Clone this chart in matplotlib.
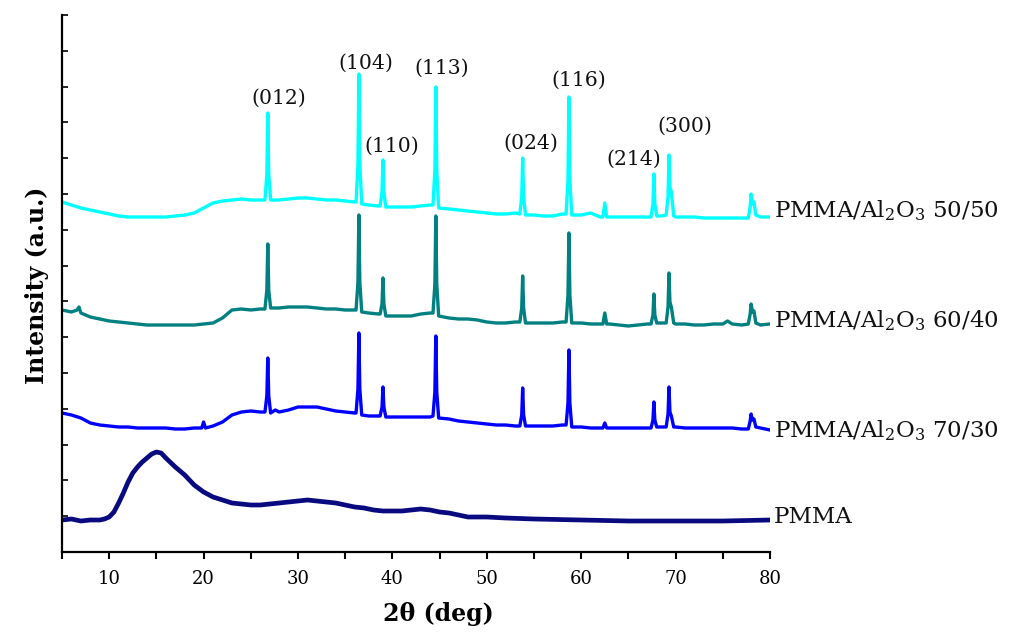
import matplotlib
matplotlib.use("Agg")
import matplotlib.pyplot as plt
import numpy as np

# ---- data (2theta [deg], intensity [a.u., stacked]) ----
pmma = [(5,32),(6,33),(7,31),(8,32),(9,32),(9.5,33),(10,35),(10.5,40),(11,49),(11.5,59),
        (12,70),(12.5,79),(13,85),(13.5,90),(14,94),(14.5,98),(15,100),(15.5,99),(16,94),
        (17,85),(18,77),(19,67),(20,60),(21,55),(22,52),(23,49),(24,48),(25,47),(26,47),
        (27,48),(28,49),(29,50),(30,51),(31,52),(32,51),(33,50),(34,49),(35,47),(36,45),
        (37,44),(38,42),(39,41),(40,41),(41,41),(42,42),(43,43),(44,42),(45,40),(46,39),
        (47,37),(48,35),(50,35),(52,34),(55,33),(60,32),(65,31),(70,31),(75,31),(80,32)]

s7030 = [(5,139),(6,137),(7,134),(8,129),(9,127),(10,126),(11,125),(12,125),(13,124),(14,124),
         (15,124),(16,124),(17,123),(18,123),(19,124),(19.8,124),(20,130),(20.2,124),(21,126),
         (22,130),(23,137),(24,140),(25,141),(26,140),
         (26.5,140),(26.7,156),(26.8,194),(26.9,156),(27.1,139),
         (27.6,142),(28,140),(29,142),(30,145),(31,145),(32,145),(33,143),(34,141),(35,140),(36,139),
         (36.15,139),(36.35,163),(36.45,219),(36.55,163),(36.75,137),
         (37.5,136),(38.5,136),
         (38.7,136),(38.9,145),(39.0,165),(39.1,145),(39.3,135),
         (40,135),(41,135),(42,135),(43,135),(44,135),
         (44.3,136),(44.5,160),(44.6,216),(44.7,160),(44.9,134),
         (46,133),(47,131),(48,130),(49,129),(50,128),(51,127),(52,127),(53,126),
         (53.5,126),(53.7,137),(53.8,164),(53.9,137),(54.1,126),
         (55,126),(56,126),(57,126),(58,127),
         (58.4,127),(58.6,149),(58.7,202),(58.8,149),(59.0,125),
         (60,125),(61,124),(62,124),(62.3,124),(62.5,129),(62.7,124),
         (63,124),(64,124),(65,124),(66,124),(67,124),
         (67.4,124),(67.6,132),(67.7,150),(67.8,132),(68.0,125),
         (68.5,125),(69.0,125),
         (69.2,138),(69.3,165),(69.4,140),(69.55,136),(69.8,125),
         (70,125),(71,124),(72,124),(73,124),(74,124),(75,124),(76,124),(77,123),
         (77.7,123),(77.9,131),(78.0,138),(78.15,132),(78.3,133),(78.5,125),
         (79,124),(80,122)]

s6040 = [(5,242),(6,240),(6.6,242),(6.8,245),(7,239),(8,235),(9,233),(10,231),(11,230),(12,229),
         (13,228),(14,227),(15,227),(16,227),(17,227),(18,227),(19,227),(20,228),(21,229),
         (22,234),(23,242),(24,243),(25,242),(26,243),
         (26.5,243),(26.7,262),(26.8,308),(26.9,262),(27.1,244),
         (28,244),(29,245),(30,245),(31,245),(32,244),(33,243),(34,243),(35,242),(36,242),
         (36.15,242),(36.35,270),(36.45,337),(36.55,270),(36.75,240),
         (37.5,239),(38.5,238),
         (38.7,238),(38.9,248),(39.0,274),(39.1,248),(39.3,236),
         (40,236),(41,236),(42,236),(43,238),(44,239),
         (44.3,239),(44.5,268),(44.6,336),(44.7,268),(44.9,236),
         (46,234),(47,233),(48,233),(49,232),(50,230),(51,229),(52,229),(53,230),
         (53.5,230),(53.7,244),(53.8,276),(53.9,244),(54.1,229),
         (55,229),(56,229),(57,229),(58,230),
         (58.4,230),(58.6,257),(58.7,319),(58.8,257),(59.0,229),
         (60,229),(61,228),(62,228),(62.3,228),(62.5,239),(62.7,228),
         (63,228),(64,227),(65,226),(66,227),(67,228),
         (67.4,228),(67.6,237),(67.7,258),(67.8,237),(68.0,229),
         (68.5,229),(69.0,229),
         (69.2,245),(69.3,279),(69.4,250),(69.55,245),(69.8,229),
         (70,228),(71,228),(72,227),(73,227),(74,228),(75,228),(75.5,231),(76,228),(77,227),
         (77.7,228),(77.9,238),(78.0,248),(78.15,240),(78.3,241),(78.5,229),
         (79,227),(80,228)]

s5050 = [(5,350),(6,347),(7,344),(8,342),(9,340),(10,338),(11,336),(12,335),(13,335),(14,335),
         (15,335),(16,335),(17,336),(18,337),(19,339),(20,344),(21,349),(22,351),(23,352),
         (24,353),(25,352),(26,352),
         (26.5,352),(26.7,378),(26.8,439),(26.9,378),(27.1,352),
         (28,352),(29,353),(30,354),(31,354),(32,353),(33,352),(34,352),(35,351),(36,350),
         (36.15,350),(36.35,388),(36.45,478),(36.55,388),(36.75,348),
         (37.5,347),(38.5,346),
         (38.7,346),(38.9,360),(39.0,392),(39.1,360),(39.3,345),
         (40,345),(41,345),(42,345),(43,346),(44,347),
         (44.3,347),(44.5,382),(44.6,465),(44.7,382),(44.9,344),
         (46,343),(47,342),(48,341),(49,340),(50,339),(51,338),(52,338),(53,339),
         (53.5,338),(53.7,355),(53.8,394),(53.9,355),(54.1,337),
         (55,337),(56,336),(57,336),(58,338),
         (58.4,338),(58.6,372),(58.7,455),(58.8,372),(59.0,337),
         (60,337),(61,339),(62,335),(62.3,335),(62.5,349),(62.7,335),
         (63,335),(64,335),(65,335),(66,335),(67,335),
         (67.4,335),(67.6,348),(67.7,378),(67.8,348),(68.0,336),
         (68.5,336),(69.0,337),
         (69.2,355),(69.3,397),(69.4,365),(69.55,360),(69.8,336),
         (70,335),(71,335),(72,335),(73,334),(74,334),(75,334),(76,334),(77,334),
         (77.7,334),(77.9,345),(78.0,358),(78.15,348),(78.3,350),(78.5,337),
         (79,335),(80,335)]

series_names = ["PMMA", "PMMA/Al$_2$O$_3$ 70/30", "PMMA/Al$_2$O$_3$ 60/40", "PMMA/Al$_2$O$_3$ 50/50"]
series_data = [pmma, s7030, s6040, s5050]
series_colors = ["#0a0a80", "#0000ff", "#008080", "#00ffff"]
series_lw = [3.4, 2.4, 2.4, 2.4]
label_y = [29, 115, 225, 335]

peak_labels = ["(012)", "(104)", "(110)", "(113)", "(024)", "(116)", "(214)", "(300)"]
peak_label_x = [28.0, 37.2, 39.96, 45.25, 54.68, 59.77, 65.6, 71.0]
peak_label_y = [454, 489, 406, 484, 409, 472, 393, 426]

# ---- figure ----
plt.rcParams['font.family'] = ['DejaVu Serif']
plt.rcParams['mathtext.fontset'] = 'dejavuserif'

fig = plt.figure(figsize=(10.19, 6.42), dpi=100)
ax = fig.add_axes([62/1019, 90/642, 708/1019, 537/642])

for name, pts, c, lw, ly in zip(series_names, series_data, series_colors, series_lw, label_y):
    xs, ys = zip(*pts)
    ax.plot(xs, ys, color=c, lw=lw, solid_joinstyle='round')
    ax.text(80.42, ly, name, fontsize=16.5, ha='left', va='baseline', color='#111111',
            clip_on=False)

for t, px, py in zip(peak_labels, peak_label_x, peak_label_y):
    ax.text(px, py, t, fontsize=14.7, ha='center', va='center', color='#111111')

ax.set_xlim(5, 80)
ax.set_ylim(0, 537)
ax.set_xticks(np.arange(10, 81, 10))
ax.set_xticks(np.arange(5, 81, 10), minor=True)
ax.set_yticks(np.arange(0, 537.5, 35.8))
ax.set_yticklabels([])
ax.tick_params(axis='x', which='both', direction='out', length=5, width=1.5,
               labelsize=13, pad=8)
ax.tick_params(axis='y', which='both', direction='in', length=4, width=1.2)

for s in ['top', 'right']:
    ax.spines[s].set_visible(False)
for s in ['left', 'bottom']:
    ax.spines[s].set_linewidth(1.6)

ax.set_xlabel("2θ (deg)", fontsize=17, fontweight='bold')
ax.xaxis.set_label_coords(0.532, -0.093)
ax.set_ylabel("Intensity (a.u.)", fontsize=17, fontweight='bold')
ax.yaxis.set_label_coords(-0.018, 0.497)

fig.savefig("out.png", dpi=100)
